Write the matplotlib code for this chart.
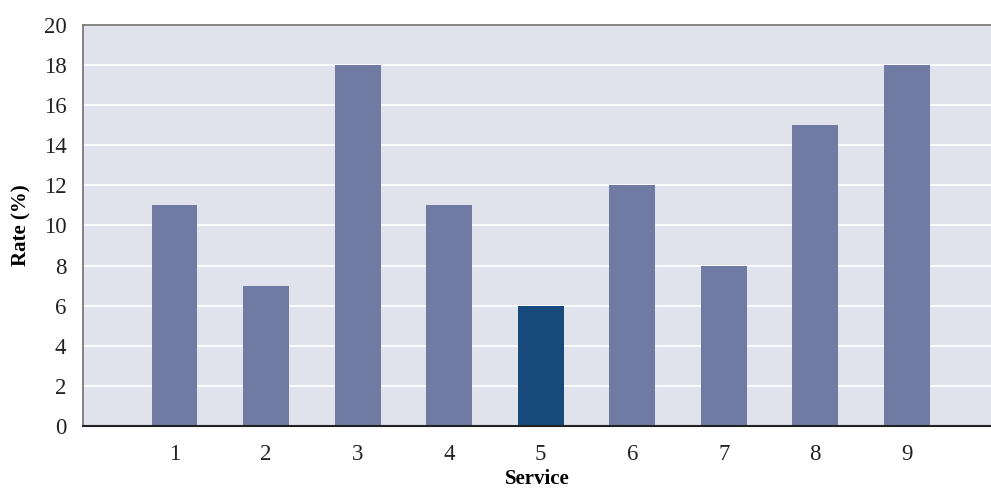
import matplotlib.pyplot as plt

services = [1, 2, 3, 4, 5, 6, 7, 8, 9]
rates = [11, 7, 18, 11, 6, 12, 8, 15, 18]
highlight = 5
y_ticks = [0, 2, 4, 6, 8, 10, 12, 14, 16, 18, 20]

plt.rcParams["font.family"] = ["Liberation Serif", "DejaVu Serif"]

fig = plt.figure(figsize=(9.91, 4.88), dpi=100)
ax = fig.add_axes([0.0838, 0.127, 0.9162, 0.822])
ax.set_facecolor("#e0e3eb")

colors = ["#17497a" if s == highlight else "#6f7ba3" for s in services]
ax.bar(services, rates, width=0.5, color=colors, zorder=2)

ax.set_xlim(0, 9.92)
ax.set_ylim(0, 20)
ax.set_xticks(services)
ax.set_yticks(y_ticks)
ax.yaxis.grid(True, color="white", linewidth=1.2, zorder=1)
ax.set_axisbelow(True)
ax.tick_params(axis="y", length=0, labelsize=16.5, colors="#222222", pad=12)
ax.tick_params(axis="x", length=0, labelsize=16.5, colors="#222222", pad=13)

for side in ["top", "left"]:
    ax.spines[side].set_color("#707070")
    ax.spines[side].set_linewidth(1.2)
ax.spines["bottom"].set_color("#222222")
ax.spines["bottom"].set_linewidth(1.5)
ax.spines["right"].set_visible(False)

ax.set_xlabel("Service", fontsize=15, fontweight="bold", labelpad=3)
ax.set_ylabel("Rate (%)", fontsize=15, fontweight="bold", labelpad=9)

fig.savefig("out.png", dpi=100)
